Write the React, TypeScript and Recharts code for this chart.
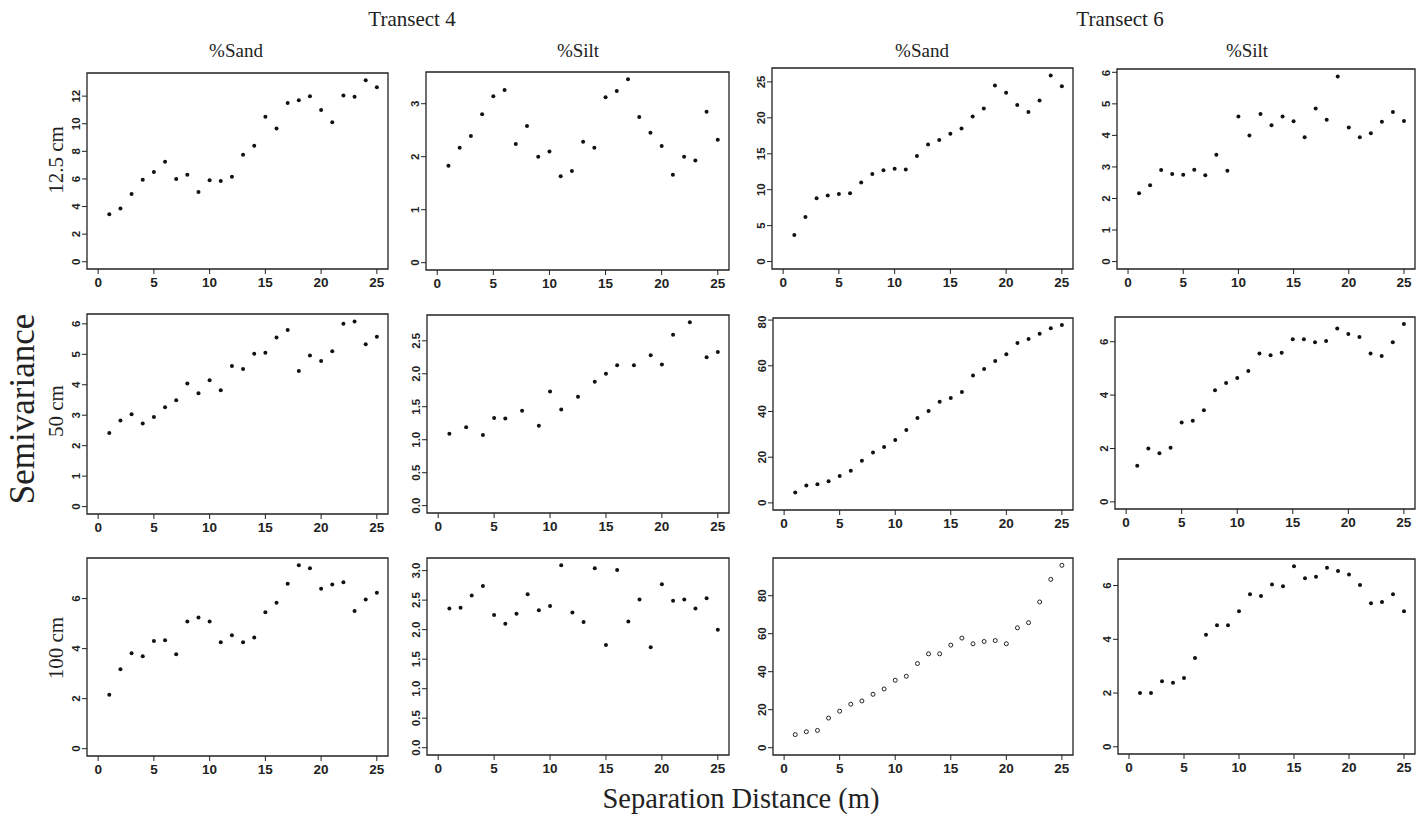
import React from 'react';
import { ScatterChart, Scatter, XAxis, YAxis, ReferenceArea } from 'recharts';

// Lag distances (m)
const lags = [1, 2, 3, 4, 5, 6, 7, 8, 9, 10, 11, 12, 13, 14, 15, 16, 17, 18, 19, 20, 21, 22, 23, 24, 25];
const lagsT4Silt50 = [1, 2.5, 4, 5, 6, 7.5, 9, 10, 11, 12.5, 14, 15, 16, 17.5, 19, 20, 21, 22.5, 24, 25];

// 12.5 cm
const t4Sand12 = [3.45, 3.85, 4.9, 5.95, 6.5, 7.25, 6.0, 6.3, 5.05, 5.9, 5.85, 6.15, 7.75, 8.4, 10.5, 9.65, 11.5, 11.7, 12.0, 11.0, 10.1, 12.05, 11.95, 13.15, 12.65];
const t4Silt12 = [1.83, 2.17, 2.39, 2.8, 3.14, 3.26, 2.24, 2.58, 2.0, 2.1, 1.63, 1.73, 2.28, 2.17, 3.12, 3.24, 3.46, 2.75, 2.45, 2.2, 1.66, 2.0, 1.93, 2.85, 2.32];
const t6Sand12 = [3.7, 6.2, 8.8, 9.2, 9.4, 9.5, 11.0, 12.2, 12.7, 12.9, 12.8, 14.7, 16.3, 16.9, 17.8, 18.5, 20.2, 21.3, 24.5, 23.5, 21.8, 20.8, 22.4, 25.9, 24.4];
const t6Silt12 = [2.17, 2.42, 2.9, 2.78, 2.75, 2.91, 2.74, 3.39, 2.88, 4.6, 4.0, 4.68, 4.32, 4.6, 4.45, 3.94, 4.85, 4.5, 5.87, 4.25, 3.94, 4.07, 4.43, 4.74, 4.46];

// 50 cm
const t4Sand50 = [2.42, 2.83, 3.03, 2.73, 2.94, 3.26, 3.49, 4.04, 3.72, 4.15, 3.82, 4.62, 4.52, 5.02, 5.05, 5.55, 5.8, 4.45, 4.96, 4.78, 5.1, 6.0, 6.08, 5.33, 5.58];
const t4Silt50 = [1.09, 1.19, 1.07, 1.33, 1.32, 1.44, 1.21, 1.73, 1.46, 1.65, 1.88, 2.0, 2.13, 2.13, 2.28, 2.14, 2.59, 2.78, 2.25, 2.33];
const t6Sand50 = [4.5, 7.6, 8.2, 9.5, 11.8, 14.1, 18.4, 22.0, 24.5, 27.5, 31.9, 37.2, 40.2, 44.3, 45.9, 48.5, 55.7, 58.6, 62.1, 65.0, 70.0, 71.7, 74.0, 76.4, 77.8];
const t6Silt50 = [1.35, 2.0, 1.82, 2.03, 2.97, 3.04, 3.43, 4.18, 4.45, 4.64, 4.9, 5.56, 5.49, 5.59, 6.09, 6.09, 5.98, 6.03, 6.5, 6.29, 6.18, 5.56, 5.47, 5.98, 6.66];

// 100 cm
const t4Sand100 = [2.16, 3.18, 3.81, 3.69, 4.3, 4.33, 3.77, 5.08, 5.24, 5.08, 4.25, 4.53, 4.25, 4.44, 5.45, 5.83, 6.59, 7.33, 7.21, 6.39, 6.56, 6.65, 5.5, 5.96, 6.23];
const t4Silt100 = [2.36, 2.37, 2.58, 2.74, 2.25, 2.1, 2.27, 2.6, 2.33, 2.4, 3.09, 2.29, 2.13, 3.04, 1.74, 3.01, 2.14, 2.51, 1.7, 2.77, 2.49, 2.51, 2.36, 2.53, 2.0];
const t6Sand100 = [6.9, 8.4, 9.1, 15.6, 19.2, 22.9, 24.6, 28.1, 30.9, 35.5, 37.6, 44.3, 49.4, 49.4, 54.0, 57.7, 54.7, 55.9, 56.4, 54.7, 63.1, 65.8, 76.7, 88.6, 96.0];
const t6Silt100 = [2.0, 2.0, 2.44, 2.38, 2.56, 3.3, 4.17, 4.52, 4.52, 5.04, 5.68, 5.61, 6.04, 5.97, 6.72, 6.27, 6.33, 6.66, 6.54, 6.41, 6.02, 5.34, 5.39, 5.68, 5.04];

// tick labels
const distanceTicks = [0, 5, 10, 15, 20, 25];
const ticksT4Sand12 = [0, 2, 4, 6, 8, 10, 12];
const ticksT4Silt12 = [0, 1, 2, 3];
const ticksT6Sand12 = [0, 5, 10, 15, 20, 25];
const ticksT6Silt12 = [0, 1, 2, 3, 4, 5, 6];
const ticksT4Sand50 = [0, 1, 2, 3, 4, 5, 6];
const ticksT4Silt50 = [0, 0.5, 1, 1.5, 2, 2.5];
const ticksT6Sand50 = [0, 20, 40, 60, 80];
const ticksT6Silt50 = [0, 2, 4, 6];
const ticksT4Sand100 = [0, 2, 4, 6];
const ticksT4Silt100 = [0, 0.5, 1, 1.5, 2, 2.5, 3];
const ticksT6Sand100 = [0, 20, 40, 60, 80];
const ticksT6Silt100 = [0, 2, 4, 6];

const panels = [
  { xs: lags, ys: t4Sand12, ticks: ticksT4Sand12, dec: 0 },
  { xs: lags, ys: t4Silt12, ticks: ticksT4Silt12, dec: 0 },
  { xs: lags, ys: t6Sand12, ticks: ticksT6Sand12, dec: 0 },
  { xs: lags, ys: t6Silt12, ticks: ticksT6Silt12, dec: 0 },
  { xs: lags, ys: t4Sand50, ticks: ticksT4Sand50, dec: 0 },
  { xs: lagsT4Silt50, ys: t4Silt50, ticks: ticksT4Silt50, dec: 1 },
  { xs: lags, ys: t6Sand50, ticks: ticksT6Sand50, dec: 0 },
  { xs: lags, ys: t6Silt50, ticks: ticksT6Silt50, dec: 0 },
  { xs: lags, ys: t4Sand100, ticks: ticksT4Sand100, dec: 0 },
  { xs: lags, ys: t4Silt100, ticks: ticksT4Silt100, dec: 1 },
  { xs: lags, ys: t6Sand100, ticks: ticksT6Sand100, dec: 0, open: true },
  { xs: lags, ys: t6Silt100, ticks: ticksT6Silt100, dec: 0 },
];

// plot box: left, top, width, height
const boxes = [
  [87, 73, 301, 196], [426, 72, 303, 198], [772, 68, 301, 201], [1117, 69, 298, 200],
  [87, 314, 301, 200], [427, 315, 302, 198], [773, 318, 300, 192], [1115, 317, 300, 192],
  [87, 558, 301, 198], [427, 558, 302, 197], [773, 558, 300, 197], [1118, 559, 297, 195],
];

const yTickFont = { fontFamily: 'Liberation Sans, Arial, sans-serif', fontSize: 11.5, fontWeight: 700, fill: '#222' };
const xTickFont = { fontFamily: 'Liberation Sans, Arial, sans-serif', fontSize: 13.5, fontWeight: 700, fill: '#222' };
const serifStyle = { fontFamily: "'Liberation Serif', 'DejaVu Serif', serif", fontWeight: 400 };

const YTick = (props: any) => {
  const { x, y, payload, dec } = props;
  return (
    <text x={x} y={y} transform={`rotate(-90, ${x}, ${y})`} textAnchor="middle" {...yTickFont}>
      {Number(payload.value).toFixed(dec)}
    </text>
  );
};

const Label = ({ x, y, size, rotate, children }: any) => (
  <text
    x={x}
    y={y}
    fontSize={size}
    textAnchor="middle"
    fill="#222"
    style={serifStyle}
    transform={rotate ? `rotate(-90, ${x}, ${y})` : undefined}
  >
    {children}
  </text>
);

const Panel = ({ p, box }: { p: any; box: number[] }) => {
  const [left, top, w, h] = box;
  const data = p.ys.map((y: number, i: number) => ({ x: p.xs[i], y }));
  const ymax = Math.max(...p.ys);
  const lo = -0.04 * ymax;
  const hi = 1.04 * ymax;
  return (
    <div style={{ position: 'absolute', left: left - 40, top: top - 5 }}>
      <ScatterChart width={w + 45} height={h + 35} margin={{ top: 5, right: 5, bottom: 0, left: 0 }}>
        <XAxis
          type="number"
          dataKey="x"
          domain={[-1, 26]}
          ticks={distanceTicks}
          allowDataOverflow
          height={30}
          axisLine={false}
          tickLine={{ stroke: '#222' }}
          tickSize={5}
          tickMargin={3}
          tick={xTickFont}
        />
        <YAxis
          type="number"
          dataKey="y"
          domain={[lo, hi]}
          ticks={p.ticks}
          allowDataOverflow
          width={40}
          axisLine={false}
          tickLine={{ stroke: '#222' }}
          tickSize={5}
          tickMargin={2}
          tick={<YTick dec={p.dec} />}
        />
        <ReferenceArea x1={-1} x2={26} y1={lo} y2={hi} fill="none" stroke="#222" strokeWidth={1.3} />
        <Scatter
          data={data}
          isAnimationActive={false}
          shape={(s: any) =>
            p.open ? (
              <circle cx={s.cx} cy={s.cy} r={2} fill="#fff" stroke="#222" strokeWidth={1} />
            ) : (
              <circle cx={s.cx} cy={s.cy} r={2} fill="#111" />
            )
          }
        />
      </ScatterChart>
    </div>
  );
};

const App: React.FC = () => {
  return (
    <div style={{ position: 'absolute', left: 0, top: 0, width: 1417, height: 817, overflow: 'hidden', background: '#fff' }}>
      <svg width={1417} height={817} style={{ position: 'absolute', left: 0, top: 0 }}>
        <Label x={412} y={26} size={21}>Transect 4</Label>
        <Label x={1120} y={26} size={21}>Transect 6</Label>
        <Label x={236} y={57} size={19}>%Sand</Label>
        <Label x={578} y={57} size={19}>%Silt</Label>
        <Label x={922} y={57} size={19}>%Sand</Label>
        <Label x={1247} y={57} size={19}>%Silt</Label>
        <Label x={63} y={160} size={21} rotate>12.5 cm</Label>
        <Label x={63} y={411} size={21} rotate>50 cm</Label>
        <Label x={63} y={648} size={21} rotate>100 cm</Label>
        <Label x={34} y={409} size={35} rotate>Semivariance</Label>
        <Label x={741} y={808} size={28.5}>Separation Distance (m)</Label>
      </svg>
      {panels.map((p, i) => (
        <Panel key={i} p={p} box={boxes[i]} />
      ))}
    </div>
  );
};

export default App;
